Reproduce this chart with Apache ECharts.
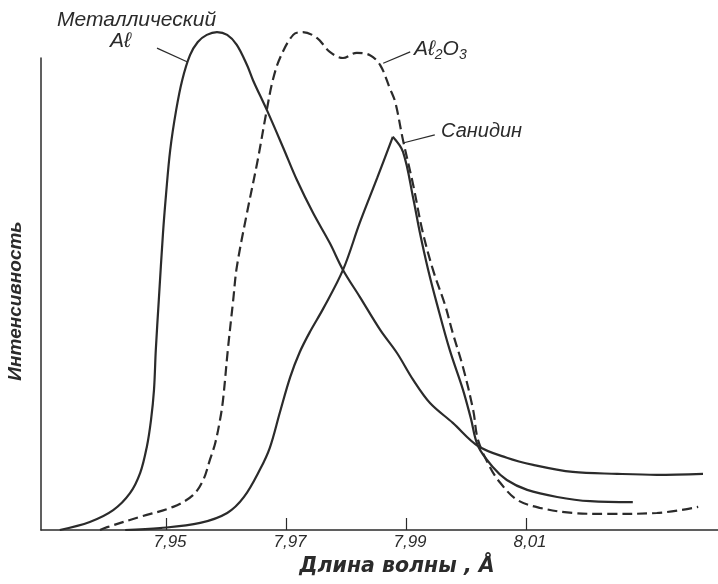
<!DOCTYPE html>
<html>
<head>
<meta charset="utf-8">
<script src="https://cdn.jsdelivr.net/npm/echarts@6/dist/echarts.min.js"></script>
<style>
html,body{margin:0;padding:0;background:#fff;}
#chart{width:718px;height:584px;}
</style>
</head>
<body>
<div id="chart"></div>
<script>
// Wavelength (Å) and relative intensity
const alX = [7.9323,7.9373,7.9412,7.9440,7.9457,7.9468,7.9475,7.9480,7.9483,7.9488,7.9495,7.9500,7.9507,7.9517,7.9527,7.9540,7.9553,7.9568,7.9585,7.9602,7.9618,7.9635,7.9645,7.9668,7.9695,7.9718,7.9745,7.9773,7.9795,7.9823,7.9857,7.9885,7.9912,7.9940,7.9978,8.0020,8.0068,8.0112,8.0178,8.0252,8.0318,8.0395];
const alY = [0,1.7,4.2,7.8,12.1,17.6,23.3,29.7,38.1,48.7,62.9,71.0,80.5,89.0,95.3,100.6,103.4,104.9,105.5,104.9,102.8,98.5,95.3,89.0,81.1,74.2,67.2,60.8,55.1,49.4,42.4,37.5,31.8,26.9,22.7,17.8,15.3,13.8,12.3,11.9,11.7,11.9];

const al2o3X = [7.9390,7.9402,7.9457,7.9512,7.9545,7.9562,7.9573,7.9582,7.9590,7.9595,7.9603,7.9612,7.9618,7.9635,7.9652,7.9668,7.9678,7.9690,7.9712,7.9728,7.9752,7.9773,7.9795,7.9818,7.9840,7.9857,7.9873,7.9882,7.9895,7.9912,7.9927,7.9945,7.9965,7.9978,7.9995,8.0012,8.0020,8.0040,8.0057,8.0085,8.0123,8.0178,8.0235,8.0318,8.0387];
const al2o3Y = [0,0.6,2.8,4.9,7.4,10.6,14.8,18.4,23.3,27.5,38.1,48.7,55.7,67.2,77.8,89.0,95.3,100,104.9,105.5,104.2,101.3,100,101.1,100.6,98.5,93.6,90.7,82.6,73.1,63.6,55.1,47.7,41.7,34.5,25.4,19.1,13.3,10.0,6.4,4.7,3.6,3.4,3.6,4.9];

const sanX = [7.9432,7.9490,7.9557,7.9602,7.9630,7.9657,7.9673,7.9690,7.9707,7.9723,7.9740,7.9762,7.9795,7.9823,7.9852,7.9878,7.9895,7.9912,7.9923,7.9937,7.9952,7.9973,7.9995,8.0008,8.0020,8.0045,8.0068,8.0102,8.0152,8.0207,8.0278];
const sanY = [0,0.4,1.5,3.6,7.0,12.9,17.4,25.0,32.4,37.7,42.0,46.9,55.1,65.1,74.6,83.3,80.1,70.3,63.1,55.1,47.7,38.1,29.7,23.7,17.8,13.3,10.6,8.5,7.0,6.1,5.9];

const tickValues = [7.95, 7.97, 7.99, 8.01];
const xTitle = 'Длина волны , Å';
const yTitle = 'Интенсивность';

const ink = '#2b2b2b';
const font = 'Liberation Sans';

function pairs(xs, ys) { return xs.map((x, i) => [x, ys[i]]); }
const alData = pairs(alX, alY);
const al2o3Data = pairs(al2o3X, al2o3Y);
const sanData = pairs(sanX, sanY);
let iMax = 0;
sanY.forEach((v, i) => { if (v > sanY[iMax]) iMax = i; });
const sanRise = sanData.slice(0, iMax + 1);
const sanFall = sanData.slice(iMax);

const baseLine = { type: 'line', showSymbol: false, symbol: 'none', clip: false, smooth: 0.35, silent: true, animation: false };

const chart = echarts.init(document.getElementById('chart'), null, { renderer: 'canvas' });
chart.setOption({
  backgroundColor: '#ffffff',
  animation: false,
  grid: { left: 41, right: 0, top: 58, bottom: 54, containLabel: false, outerBoundsMode: 'none' },
  xAxis: {
    type: 'value', min: 7.929167, max: 8.042,
    name: xTitle, nameLocation: 'middle', nameGap: 27,
    nameTextStyle: { fontFamily: 'DejaVu Sans', fontStyle: 'italic', fontWeight: 'bold', fontSize: 20.5, color: ink, padding: [0, 0, 0, 35] },
    axisLine: { show: true, lineStyle: { color: ink, width: 1.5 } },
    axisTick: { show: true, inside: true, length: 12, customValues: tickValues, lineStyle: { color: ink, width: 1.2 } },
    axisLabel: { show: true, customValues: tickValues, margin: 4, fontFamily: font, fontStyle: 'italic', fontSize: 17, color: ink,
      padding: [0, 0, 0, 8],
      formatter: v => v.toFixed(2).replace('.', ',') },
    splitLine: { show: false }
  },
  yAxis: {
    type: 'value', min: 0, max: 100,
    name: yTitle, nameLocation: 'middle', nameGap: 16, nameRotate: 90,
    nameTextStyle: { fontFamily: font, fontStyle: 'italic', fontWeight: 'bold', fontSize: 19, color: ink, padding: [0, 14, 0, 0] },
    axisLine: { show: true, lineStyle: { color: ink, width: 1.5 } },
    axisTick: { show: false }, axisLabel: { show: false }, splitLine: { show: false }
  },
  series: [
    Object.assign({}, baseLine, { name: 'Металлический Al', data: alData, lineStyle: { color: ink, width: 2.2 } }),
    Object.assign({}, baseLine, { name: 'Al2O3', data: al2o3Data, lineStyle: { color: ink, width: 2.2, type: [10, 5] } }),
    Object.assign({}, baseLine, { name: 'Санидин', data: sanRise, lineStyle: { color: ink, width: 2.2 } }),
    Object.assign({}, baseLine, { name: 'Санидин ', data: sanFall, lineStyle: { color: ink, width: 2.2 } })
  ]
});

// leader lines from curve labels, placed in data space and converted through the grid
const leaders = [
  [[7.9485, 102.1], [7.9535, 99.2]],
  [[7.9862, 98.9], [7.9907, 101.3]],
  [[7.9895, 82.0], [7.9948, 83.7]]
];
const leaderGraphics = leaders.map(([a, b]) => {
  const p1 = chart.convertToPixel({ gridIndex: 0 }, a);
  const p2 = chart.convertToPixel({ gridIndex: 0 }, b);
  return { type: 'line', silent: true, shape: { x1: p1[0], y1: p1[1], x2: p2[0], y2: p2[1] }, style: { stroke: ink, lineWidth: 1.2 } };
});

chart.setOption({
  graphic: leaderGraphics.concat([
    { type: 'text', left: 57, top: 10, style: { text: 'Металлический', font: 'italic 21px "Liberation Sans"', fill: ink } },
    { type: 'text', left: 110, top: 31, style: { text: 'Aℓ', font: 'italic 21px "Liberation Sans"', fill: ink } },
    { type: 'text', left: 414, top: 39, style: { rich: { n: { font: 'italic 21px "Liberation Sans"', fill: ink }, s: { font: 'italic 14px "Liberation Sans"', fill: ink, padding: [11, 0, 0, 0] } },
      text: '{n|Aℓ}{s|2}{n|O}{s|3}' } },
    { type: 'text', left: 441, top: 121, style: { text: 'Санидин', font: 'italic 20px "Liberation Sans"', fill: ink } }
  ])
});
</script>
</body>
</html>
